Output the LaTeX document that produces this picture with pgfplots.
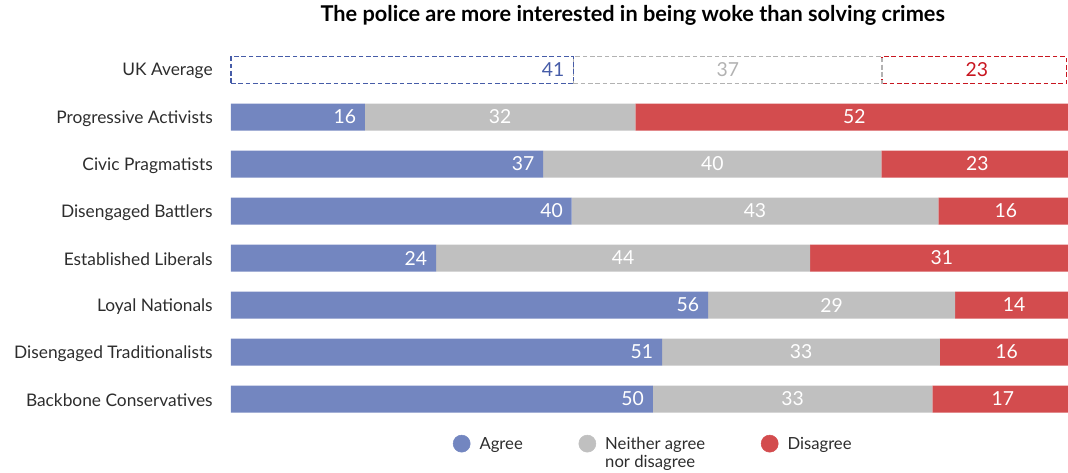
\documentclass[border=0pt]{standalone}
\usepackage{pgfplots}
\pgfplotsset{compat=1.18}
\usepackage{pgfplotstable}
\usepackage{fontspec}
\setmainfont{Lato}
\definecolor{agree}{RGB}{115,134,192}
\definecolor{neither}{RGB}{192,192,192}
\definecolor{disagree}{RGB}{211,76,78}
\definecolor{agreeD}{RGB}{70,92,168}
\definecolor{neitherD}{RGB}{178,178,178}
\definecolor{disagreeD}{RGB}{200,22,32}
\definecolor{textgray}{RGB}{45,45,45}

% y: row, a/n/d: bar widths (%), la/ln/ld: printed labels
\pgfplotstableread{
y a n d la ln ld
0 40.9 36.9 22.0 41 37 23
}\uk
\pgfplotstableread{
y a n d la ln ld
1 16.0 32.3 51.7 16 32 52
2 37.3 40.4 22.3 37 40 23
3 40.7 43.8 15.5 40 43 16
4 24.5 44.7 30.8 24 44 31
5 57.0 29.5 13.5 56 29 14
6 51.5 33.2 15.3 51 33 16
7 50.4 33.4 16.2 50 33 17
}\groups

\pgfplotsset{base/.style={scale only axis, width=627.75pt, height=282pt,
  xmin=0, xmax=100, ymin=-0.5, ymax=7.5, y dir=reverse, clip=false}}

\begin{document}
\begin{tikzpicture}
\begin{axis}[base, xbar stacked, bar width=20.25pt,
  ytick={0,...,7},
  yticklabels={UK Average, Progressive Activists, Civic Pragmatists, Disengaged Battlers, Established Liberals, Loyal Nationals, Disengaged Traditionalists, Backbone Conservatives},
  xtick=\empty, axis line style={draw=none}, major tick length=0pt,
  yticklabel style={font=\fontsize{13}{15}\selectfont, text=textgray, inner sep=0pt, xshift=-13.5pt, yshift=-1pt},
  title={\bfseries The police are more interested in being woke than solving crimes},
  title style={at={(0.48,1)}, anchor=base, yshift=13pt, font=\fontsize{16.3}{18}\selectfont, inner sep=0pt}]
\addplot[fill=agree, draw=none] table[x=a, y=y] {\groups};
\addplot[fill=neither, draw=none] table[x=n, y=y] {\groups};
\addplot[fill=disagree, draw=none] table[x=d, y=y] {\groups};
\end{axis}

\begin{axis}[base, xbar stacked, bar width=20.25pt, hide axis]
\addplot[draw=agreeD, fill=none, line width=1.1pt, dash pattern=on 3.5pt off 2pt] table[x=a, y=y] {\uk};
\addplot[draw=neitherD, fill=none, line width=1.1pt, dash pattern=on 3.5pt off 2pt] table[x=n, y=y] {\uk};
\addplot[draw=disagreeD, fill=none, line width=1.1pt, dash pattern=on 3.5pt off 2pt] table[x=d, y=y] {\uk};
\end{axis}

\begin{axis}[base, hide axis, point meta=explicit symbolic,
  nodes near coords style={font=\fontsize{14.5}{16}\selectfont, inner sep=0pt},
  legend style={draw=none, fill=none, at={(0.505,0)}, anchor=north, yshift=-6pt,
    legend columns=3, font=\fontsize{12.5}{14}\selectfont, text=textgray,
    cells={align=left, anchor=west},
    /tikz/every odd column/.append style={column sep=5pt},
    /tikz/every even column/.append style={column sep=40pt}}]
\addlegendimage{only marks, mark=*, mark size=6.4pt, mark options={draw=agree, fill=agree, yshift=7pt}}
\addlegendentry{Agree\strut\\\strut}
\addlegendimage{only marks, mark=*, mark size=6.4pt, mark options={draw=neither, fill=neither, yshift=7pt}}
\addlegendentry{Neither agree\strut\\nor disagree\strut}
\addlegendimage{only marks, mark=*, mark size=6.4pt, mark options={draw=disagree, fill=disagree, yshift=7pt}}
\addlegendentry{Disagree\strut\\\strut}
% group labels
\addplot[draw=none, mark=none, nodes near coords, nodes near coords style={anchor=east, xshift=-6.5pt, text=white}]
  table[x=a, y=y, meta=la] {\groups};
\addplot[draw=none, mark=none, nodes near coords, nodes near coords style={anchor=center, text=white}]
  table[x expr=\thisrow{a}+\thisrow{n}/2, y=y, meta=ln] {\groups};
\addplot[draw=none, mark=none, nodes near coords, nodes near coords style={anchor=center, xshift=2pt, text=white}]
  table[x expr=\thisrow{a}+\thisrow{n}+\thisrow{d}/2, y=y, meta=ld] {\groups};
% UK labels
\addplot[draw=none, mark=none, nodes near coords, nodes near coords style={anchor=east, xshift=-6.5pt, text=agreeD}]
  table[x=a, y=y, meta=la] {\uk};
\addplot[draw=none, mark=none, nodes near coords, nodes near coords style={anchor=center, text=neitherD}]
  table[x expr=\thisrow{a}+\thisrow{n}/2, y=y, meta=ln] {\uk};
\addplot[draw=none, mark=none, nodes near coords, nodes near coords style={anchor=center, xshift=2pt, text=disagreeD}]
  table[x expr=\thisrow{a}+\thisrow{n}+\thisrow{d}/2, y=y, meta=ld] {\uk};
\end{axis}
\pgfresetboundingbox
\useasboundingbox (-173.25pt,-37.125pt) rectangle (627.75pt,316.875pt);
\end{tikzpicture}
\end{document}
